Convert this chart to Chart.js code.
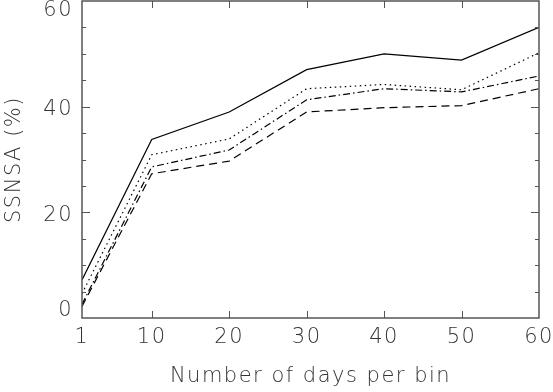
<!DOCTYPE html>
<html>
<head>
<meta charset="utf-8">
<script src="https://cdn.jsdelivr.net/npm/chart.js@4/dist/chart.umd.min.js"></script>
<style>
  html, body { margin: 0; padding: 0; background: #fff; }
  #wrap { width: 553px; height: 392px; }
</style>
</head>
<body>
<div id="wrap"><canvas id="ssnsaChart"></canvas></div>
<script>
// days per bin (x) and the four curves
const days = [1, 10, 20, 30, 40, 50, 60];
const solidVals   = [7.2, 33.8, 39.0, 47.0, 50.0, 48.8, 55.0];
const dottedVals  = [4.6, 30.9, 33.9, 43.4, 44.2, 43.2, 50.2];
const dashDotVals = [2.6, 28.6, 31.8, 41.3, 43.4, 42.8, 45.8];
const dashedVals  = [2.2, 27.3, 29.7, 39.0, 39.8, 40.2, 43.4];
const xTicks = [1, 10, 20, 30, 40, 50, 60];
const yTicks = [0, 20, 40, 60];

const fontFamily = '"DejaVu Sans", sans-serif';
const textColor = '#333';
const labelFont = { family: fontFamily, size: 21, weight: 200 };

function toPoints(vals) {
    return vals.map((v, i) => ({ x: days[i], y: v }));
}

// frame, inward ticks and y labels like the original plot
const framePlugin = {
    id: 'frame',
    beforeDraw(chart) {
        chart.ctx.letterSpacing = '1.5px';
    },
    afterDraw(chart) {
        const ctx = chart.ctx;
        const a = chart.chartArea;
        const xs = chart.scales.x;
        const ys = chart.scales.y;
        ctx.save();
        ctx.strokeStyle = '#555';
        ctx.lineWidth = 1.5;
        ctx.strokeRect(a.left, a.top, a.right - a.left, a.bottom - a.top);

        ctx.lineWidth = 1;
        // x ticks top and bottom
        xTicks.forEach(t => {
            if (t === 1 || t === 60) return;
            const px = Math.round(xs.getPixelForValue(t)) + 0.5;
            ctx.beginPath();
            ctx.moveTo(px, a.bottom); ctx.lineTo(px, a.bottom - 7);
            ctx.moveTo(px, a.top); ctx.lineTo(px, a.top + 7);
            ctx.stroke();
        });
        // y ticks left and right, minor every 5
        for (let v = 5; v < 60; v += 5) {
            const py = Math.round(ys.getPixelForValue(v)) + 0.5;
            const len = v % 20 === 0 ? 8 : 4;
            ctx.beginPath();
            ctx.moveTo(a.left, py); ctx.lineTo(a.left + len, py);
            ctx.moveTo(a.right, py); ctx.lineTo(a.right - len, py);
            ctx.stroke();
        }
        // y labels
        ctx.fillStyle = textColor;
        ctx.font = '200 21px ' + fontFamily;
        ctx.textAlign = 'right';
        ctx.textBaseline = 'middle';
        yTicks.forEach(t => {
            let py = ys.getPixelForValue(t) + 3;
            py = Math.max(11, Math.min(311, py));
            ctx.fillText(String(t), 73, py);
        });
        ctx.restore();
    }
};

const ctx = document.getElementById('ssnsaChart').getContext('2d');
new Chart(ctx, {
    type: 'line',
    data: {
        datasets: [
            { data: toPoints(solidVals), borderDash: [] },
            { data: toPoints(dottedVals), borderDash: [1.5, 3.5] },
            { data: toPoints(dashDotVals), borderDash: [7, 3, 1.5, 3] },
            { data: toPoints(dashedVals), borderDash: [8, 5] }
        ].map(d => Object.assign({
            borderColor: '#000',
            borderWidth: 1.2,
            pointRadius: 0,
            fill: false,
            tension: 0
        }, d))
    },
    options: {
        responsive: true,
        maintainAspectRatio: false,
        animation: false,
        layout: { padding: { top: 1, right: 14, left: 0, bottom: 0 } },
        plugins: { legend: { display: false }, tooltip: { enabled: false } },
        scales: {
            x: {
                type: 'linear',
                min: 1,
                max: 60,
                afterBuildTicks: s => { s.ticks = xTicks.map(v => ({ value: v })); },
                afterFit: s => { s.height = 74; s.paddingLeft = 0; s.paddingRight = 0; },
                grid: { display: false, drawTicks: false },
                border: { display: false },
                ticks: {
                    color: textColor,
                    font: labelFont,
                    padding: 7,
                    maxRotation: 0,
                    autoSkip: false
                },
                title: {
                    display: true,
                    text: 'Number of days per bin',
                    color: textColor,
                    font: labelFont,
                    padding: { top: 0, bottom: 3 }
                }
            },
            y: {
                min: 0,
                max: 60,
                afterFit: s => { s.width = 82; s.paddingTop = 0; s.paddingBottom = 0; },
                grid: { display: false, drawTicks: false },
                border: { display: false },
                ticks: { display: false, stepSize: 20 },
                title: {
                    display: true,
                    text: 'SSNSA (%)',
                    color: textColor,
                    font: labelFont,
                    padding: { top: 2, bottom: 0 }
                }
            }
        }
    },
    plugins: [framePlugin]
});
</script>
</body>
</html>
